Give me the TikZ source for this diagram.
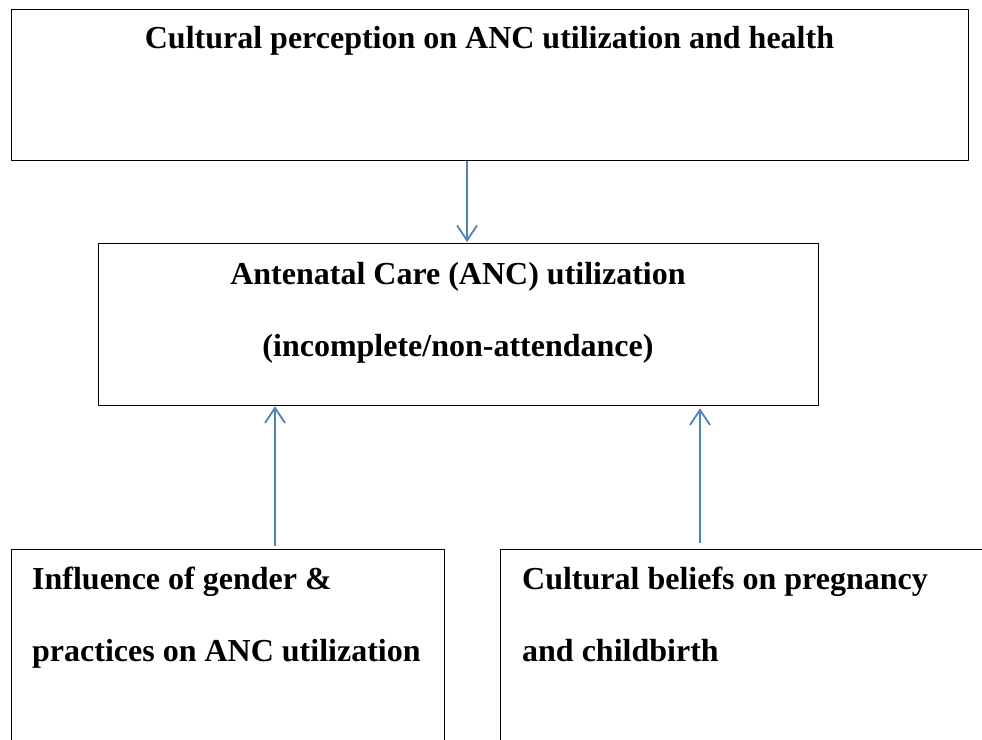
\documentclass[tikz,border=0pt]{standalone}
\usepackage{fontspec}
\setmainfont{Liberation Serif}
\usetikzlibrary{arrows.meta}
\definecolor{arrowblue}{RGB}{79,129,189}

\begin{document}
\begin{tikzpicture}[line join=bevel,
  box/.style={draw=black,line width=1.3bp,inner sep=0pt,anchor=north west},
  txt/.style={inner sep=0pt,font=\bfseries\fontsize{32bp}{36bp}\selectfont},
  flow/.style={arrowblue,line width=1.8bp,-{Straight Barb[length=15bp,width=20bp,line width=1.8bp]}}]
%%
\useasboundingbox (0bp,0bp) rectangle (982bp,740bp);
\clip (0bp,0bp) rectangle (982bp,740bp);
\node (node_top) at (11bp,731bp) [box,minimum width=957bp,minimum height=151bp] {};
  \node (node_mid) at (98bp,497bp) [box,minimum width=720bp,minimum height=162bp] {};
  \node (node_left) at (11bp,191bp) [box,minimum width=433bp,minimum height=230bp] {};
  \node (node_right) at (500bp,191bp) [box,minimum width=520bp,minimum height=230bp] {};
  \node (text_top) at (489.5bp,691bp) [txt,anchor=base] {Cultural perception on ANC utilization and health};
  \node (text_mid1) at (458bp,455bp) [txt,anchor=base] {Antenatal Care (ANC) utilization};
  \node (text_mid2) at (458bp,383bp) [txt,anchor=base] {(incomplete/non-attendance)};
  \node (text_left1) at (32bp,150bp) [txt,anchor=base west] {Influence of gender \&};
  \node (text_left2) at (32bp,78bp) [txt,anchor=base west] {practices on ANC utilization};
  \node (text_right1) at (522bp,150bp) [txt,anchor=base west] {Cultural beliefs on pregnancy};
  \node (text_right2) at (522bp,78bp) [txt,anchor=base west] {and childbirth};
  \draw [flow] (node_top.south -| 467bp,0) -- ([yshift=1bp]node_mid.north -| 467bp,0);
  \draw [flow] ([yshift=3bp]node_left.north -| 275bp,0) -- (node_mid.south -| 275bp,0);
  \draw [flow] ([yshift=6bp]node_right.north -| 700bp,0) -- ([yshift=-2bp]node_mid.south -| 700bp,0);
%
\end{tikzpicture}
\end{document}
